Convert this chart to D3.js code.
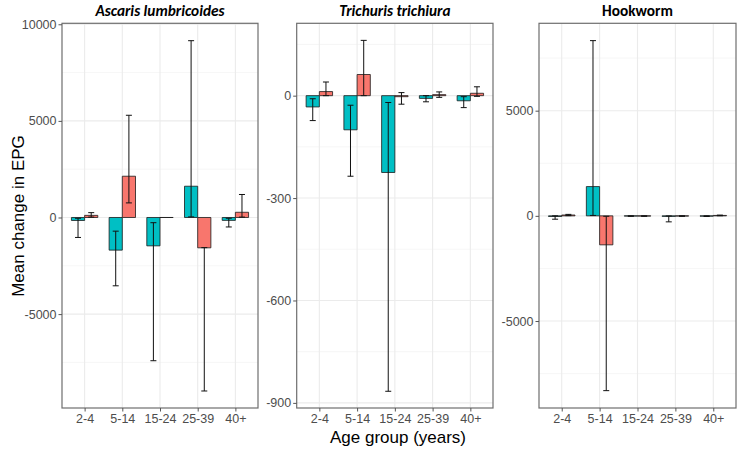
<!DOCTYPE html>
<html><head><meta charset="utf-8">
<script src="https://cdn.jsdelivr.net/npm/d3@7"></script>
<style>body{margin:0;background:#fff}</style>
</head><body>
<svg id="c" width="738" height="449"></svg>
<script>
const categories = ["2-4","5-14","15-24","25-39","40+"];
const panelTitles = ["Ascaris lumbricoides","Trichuris trichiura","Hookworm"];
const titleItalic = [true,true,false];
const seriesColors = ["#00BFC4","#F8766D"];

// Ascaris lumbricoides
const ascarisS1 = [-155,-1690,-1468,1618,-150];
const ascarisS1Lo = [-1034,-3536,-7413,30,-490];
const ascarisS1Hi = [-40,-708,-270,9150,-40];
const ascarisS2 = [110,2135,0,-1570,270];
const ascarisS2Lo = [20,755,0,-8980,20];
const ascarisS2Hi = [250,5290,0,-1560,1190];

// Trichuris trichiura
const trichurisS1 = [-33,-100,-225,-8,-15];
const trichurisS1Lo = [-73,-236,-866,-18,-35];
const trichurisS1Hi = [-9,-28,-20,0,-3];
const trichurisS2 = [12,62,-3,3,7];
const trichurisS2Lo = [0,0,-25,-5,-2];
const trichurisS2Hi = [40,162,9,11,26];

// Hookworm
const hookS1 = [-30,1392,-10,-25,-15];
const hookS1Lo = [-160,20,-20,-285,-30];
const hookS1Hi = [0,8330,0,-5,0];
const hookS2 = [40,-1378,-10,-10,20];
const hookS2Lo = [10,-8310,-20,-20,5];
const hookS2Hi = [70,-20,0,0,35];

const yDomains = [[-9860,10050],[-915,212],[-9135,9154]];
const yTicks = [[-5000,0,5000,10000],[-900,-600,-300,0],[-5000,0,5000]];
const yMinor = [[-7500,-2500,2500,7500],[-750,-450,-150,150],[-7500,-2500,2500,7500]];

const panelData = [
  [[ascarisS1,ascarisS1Lo,ascarisS1Hi],[ascarisS2,ascarisS2Lo,ascarisS2Hi]],
  [[trichurisS1,trichurisS1Lo,trichurisS1Hi],[trichurisS2,trichurisS2Lo,trichurisS2Hi]],
  [[hookS1,hookS1Lo,hookS1Hi],[hookS2,hookS2Lo,hookS2Hi]]
];

const panelX = [[62,258],[296.7,493],[539,736]];
const plotTop = 23.3, plotBottom = 408;
const svg = d3.select("#c");
const fmt = d => String(d);

panelData.forEach((series, p) => {
  const [x0,x1] = panelX[p];
  const x = d3.scalePoint().domain(categories).range([x0,x1]).padding(0.6);
  const step = x.step();
  const y = d3.scaleLinear().domain(yDomains[p]).range([plotBottom, plotTop]);
  const g = svg.append("g");
  g.append("rect").attr("x",x0).attr("y",plotTop).attr("width",x1-x0).attr("height",plotBottom-plotTop).attr("fill","#fff");
  g.selectAll(".mn").data(yMinor[p]).join("line")
    .attr("x1",x0).attr("x2",x1).attr("y1",d=>y(d)).attr("y2",d=>y(d))
    .attr("stroke","#F2F2F2").attr("stroke-width",0.7);
  g.selectAll(".mj").data(yTicks[p]).join("line")
    .attr("x1",x0).attr("x2",x1).attr("y1",d=>y(d)).attr("y2",d=>y(d))
    .attr("stroke","#EBEBEB").attr("stroke-width",1.1);
  g.selectAll(".vx").data(categories).join("line")
    .attr("x1",d=>x(d)).attr("x2",d=>x(d)).attr("y1",plotTop).attr("y2",plotBottom)
    .attr("stroke","#EBEBEB").attr("stroke-width",1.1);

  const bw = step*0.35;
  series.forEach((s, si) => {
    const [vals] = s;
    const off = si===0 ? -bw : 0;
    g.selectAll(".bar"+si).data(categories).join("path")
      .attr("d",(c,i)=>{
        const xa = x(c)+off, xb = xa+bw;
        const ya = y(0), yb = y(vals[i]);
        return `M${xa},${ya}H${xb}V${yb}H${xa}Z`;
      })
      .attr("fill",seriesColors[si]).attr("stroke","#1a1a1a").attr("stroke-width",0.8);
  });
  series.forEach((s, si) => {
    const [vals, lo, hi] = s;
    const off = si===0 ? -bw/2 : bw/2;
    const cap = 3;
    categories.forEach((c,i)=>{
      if (lo[i]===hi[i]) return;
      const cx = x(c)+off;
      const eg = g.append("g").attr("stroke","#111").attr("stroke-width",1);
      eg.append("line").attr("x1",cx).attr("x2",cx).attr("y1",y(lo[i])).attr("y2",y(hi[i]));
      eg.append("line").attr("x1",cx-cap).attr("x2",cx+cap).attr("y1",y(lo[i])).attr("y2",y(lo[i]));
      eg.append("line").attr("x1",cx-cap).attr("x2",cx+cap).attr("y1",y(hi[i])).attr("y2",y(hi[i]));
    });
  });
  g.append("rect").attr("x",x0).attr("y",plotTop).attr("width",x1-x0).attr("height",plotBottom-plotTop)
    .attr("fill","none").attr("stroke","#6e6e6e").attr("stroke-width",1.2);

  const yAx = g.append("g").attr("transform",`translate(${x0},0)`)
    .call(d3.axisLeft(y).tickValues(yTicks[p]).tickSize(3.5).tickPadding(2).tickFormat(fmt));
  yAx.select(".domain").remove();
  yAx.selectAll(".tick line").attr("stroke","#555");
  yAx.selectAll(".tick text").attr("fill","#4D4D4D").style("font-family","'Liberation Sans', Arial, sans-serif").style("font-size","12.5px");
  const xAx = g.append("g").attr("transform",`translate(0,${plotBottom})`)
    .call(d3.axisBottom(x).tickSize(3.5).tickPadding(3));
  xAx.select(".domain").remove();
  xAx.selectAll(".tick line").attr("stroke","#555");
  xAx.selectAll(".tick text").attr("fill","#4D4D4D").style("font-family","'Liberation Sans', Arial, sans-serif").style("font-size","12.5px");

  svg.append("text").attr("x",(x0+x1)/2).attr("y",15.5).attr("text-anchor","middle")
    .style("font-family","Carlito, Calibri, Lato, 'Open Sans', sans-serif")
    .style("font-weight","bold").style("font-style",titleItalic[p]?"italic":"normal")
    .style("font-size","15.3px").attr("fill","#000").text(panelTitles[p]);
});

svg.append("text").attr("transform","translate(24,216) rotate(-90)").attr("text-anchor","middle")
  .style("font-family","'Liberation Sans', Arial, sans-serif").style("font-size","17px").attr("fill","#000")
  .text("Mean change in EPG");
svg.append("text").attr("x",398).attr("y",443).attr("text-anchor","middle")
  .style("font-family","'Liberation Sans', Arial, sans-serif").style("font-size","17px").attr("fill","#000")
  .text("Age group (years)");
</script>
</body></html>
